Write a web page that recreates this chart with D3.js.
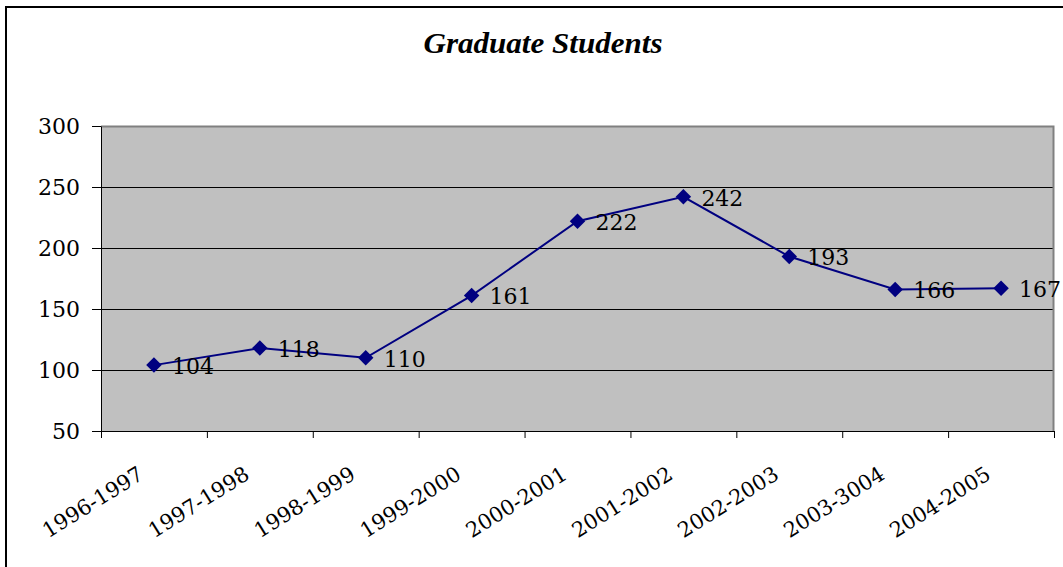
<!DOCTYPE html>
<html>
<head>
<meta charset="utf-8">
<script src="https://cdn.jsdelivr.net/npm/d3@7"></script>
<style>
  body { margin: 0; background: #fff; }
  svg { display: block; }
  .tick text { font-family: "DejaVu Serif", serif; }
</style>
</head>
<body>
<div class="chart"></div>
<script>
var width = 1063;
var height = 567;

var margin = { "top": 126, "bottom": 136, "left": 101, "right": 9 };

// chart data
var years = ["1996-1997", "1997-1998", "1998-1999", "1999-2000", "2000-2001",
             "2001-2002", "2002-2003", "2003-3004", "2004-2005"];
var students = [104, 118, 110, 161, 222, 242, 193, 166, 167];
var yTicks = [50, 100, 150, 200, 250, 300];

var data = years.map(function(y, i) { return { year: y, value: students[i] }; });

var innerW = width - margin.left - margin.right;
var innerH = height - margin.top - margin.bottom;

var svg = d3.select(".chart")
            .append("svg")
            .attr("width", width)
            .attr("height", height);

// outer chart border
svg.append("rect")
   .attr("x", 6)
   .attr("y", 7)
   .attr("width", width + 20)
   .attr("height", height + 20)
   .attr("fill", "none")
   .attr("stroke", "#000")
   .attr("stroke-width", 2);

svg.append("text")
   .attr("x", 543)
   .attr("y", 53)
   .attr("text-anchor", "middle")
   .attr("font-family", "Liberation Serif, serif")
   .attr("font-weight", "bold")
   .attr("font-style", "italic")
   .attr("font-size", 29)
   .attr("textLength", 239)
   .attr("lengthAdjust", "spacingAndGlyphs")
   .text("Graduate Students");

var g = svg.append("g")
           .attr("transform", "translate(" + margin.left + "," + margin.top + ")");

var scaleX = d3.scaleBand().domain(years).range([0, innerW]);
var scaleY = d3.scaleLinear().domain([50, 300]).range([innerH, 0]);

// plot area
g.append("rect")
  .attr("width", innerW)
  .attr("height", innerH)
  .attr("fill", "#c0c0c0");

// gridlines
g.selectAll(".grid")
  .data(yTicks.slice(1, -1))
  .enter()
  .append("line")
  .attr("x1", 0)
  .attr("x2", innerW)
  .attr("y1", function(d) { return Math.round(scaleY(d)) + 0.5; })
  .attr("y2", function(d) { return Math.round(scaleY(d)) + 0.5; })
  .attr("stroke", "#000");

// plot border top / right (gray)
g.append("path")
  .attr("d", "M0,0.5H" + (innerW - 0.5) + "V" + innerH)
  .attr("fill", "none")
  .attr("stroke", "#808080")
  .attr("stroke-width", 2);

// y axis
var yAxis = d3.axisLeft(scaleY)
              .tickValues(yTicks)
              .tickSizeInner(9)
              .tickSizeOuter(0)
              .tickPadding(12);

var ya = g.append("g").attr("class", "yAxis").call(yAxis);
ya.select(".domain").attr("stroke", "#000");
ya.selectAll(".tick text").attr("font-size", 22).attr("fill", "#000").attr("dy", "0.36em");

// x axis
var xAxis = d3.axisBottom(d3.scaleLinear().domain([0, years.length]).range([0, innerW]))
              .tickValues(d3.range(0, years.length + 1))
              .tickSizeInner(7)
              .tickSizeOuter(0)
              .tickFormat("");

var xa = g.append("g")
          .attr("transform", "translate(0," + innerH + ")")
          .call(xAxis);

g.selectAll(".xlabel")
  .data(years)
  .enter()
  .append("text")
  .attr("transform", function(d) {
    return "translate(" + (scaleX(d) + scaleX.bandwidth() / 2 - 9) + "," + (innerH + 47) + ") rotate(-32)";
  })
  .attr("text-anchor", "end")
  .attr("font-family", "DejaVu Serif, serif")
  .attr("font-size", 21)
  .text(function(d) { return d; });

// line
var line = d3.line()
             .x(function(d) { return scaleX(d.year) + scaleX.bandwidth() / 2; })
             .y(function(d) { return scaleY(d.value); });

g.append("path")
  .datum(data)
  .attr("d", line)
  .attr("fill", "none")
  .attr("stroke", "#000080")
  .attr("stroke-width", 2);

g.selectAll(".marker")
  .data(data)
  .enter()
  .append("path")
  .attr("d", d3.symbol().type(d3.symbolSquare).size(120))
  .attr("transform", function(d) {
    return "translate(" + (scaleX(d.year) + scaleX.bandwidth() / 2) + "," + scaleY(d.value) + ") rotate(45)";
  })
  .attr("fill", "#000080");

g.selectAll(".value")
  .data(data)
  .enter()
  .append("text")
  .attr("x", function(d) { return scaleX(d.year) + scaleX.bandwidth() / 2 + 18; })
  .attr("y", function(d) { return scaleY(d.value); })
  .attr("dy", "0.4em")
  .attr("font-family", "DejaVu Serif, serif")
  .attr("font-size", 22)
  .text(function(d) { return d.value; });
</script>
</body>
</html>
